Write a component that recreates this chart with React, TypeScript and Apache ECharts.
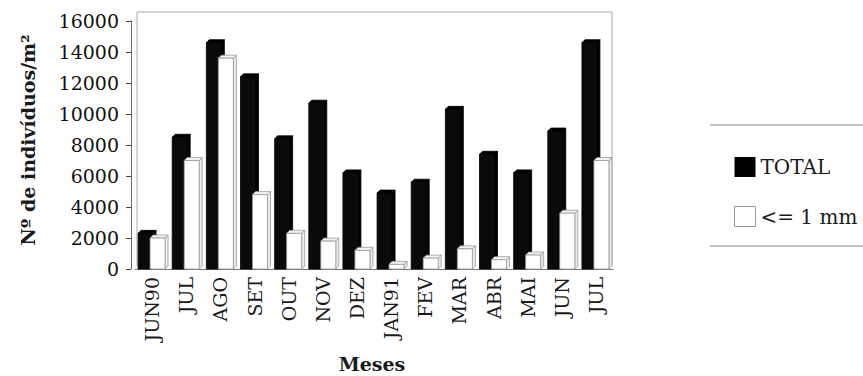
import React, { useEffect, useRef } from "react";
import * as echarts from "echarts";

const months = ["JUN90", "JUL", "AGO", "SET", "OUT", "NOV", "DEZ", "JAN91", "FEV", "MAR", "ABR", "MAI", "JUN", "JUL"];
const total = [2300, 8500, 14600, 12400, 8400, 10700, 6200, 4900, 5600, 10300, 7400, 6200, 8900, 14600];
const upTo1mm = [2000, 7000, 13600, 4800, 2300, 1800, 1200, 300, 700, 1300, 600, 900, 3600, 7000];
const yTicks = [0, 2000, 4000, 6000, 8000, 10000, 12000, 14000, 16000];

const BW = 15;
const DX = 3;
const DY = 3;

function makeRender(offset: number, front: string, side: string, top: string, stroke: string) {
  return (_params: any, api: any) => {
    const i = api.value(0);
    const v = api.value(1);
    const p0 = api.coord([i, 0]);
    const p1 = api.coord([i, v]);
    const x0 = p0[0] + offset;
    const x1 = x0 + BW;
    const yb = p0[1];
    const yt = p1[1];
    return {
      type: "group",
      children: [
        {
          type: "polygon",
          shape: { points: [[x1, yb], [x1 + DX, yb - DY], [x1 + DX, yt - DY], [x1, yt]] },
          style: { fill: side, stroke, lineWidth: 0.8 },
        },
        {
          type: "polygon",
          shape: { points: [[x0, yt], [x0 + DX, yt - DY], [x1 + DX, yt - DY], [x1, yt]] },
          style: { fill: top, stroke, lineWidth: 0.8 },
        },
        {
          type: "rect",
          shape: { x: x0, y: yt, width: BW, height: yb - yt },
          style: { fill: front, stroke, lineWidth: 0.8 },
        },
      ],
    };
  };
}

export default function App() {
  const ref = useRef<HTMLDivElement>(null);
  useEffect(() => {
    if (!ref.current) return;
    const chart = echarts.init(ref.current, undefined, { renderer: "svg" });
    const serif = "DejaVu Serif";
    chart.setOption({
      animation: false,
      backgroundColor: "#ffffff",
      grid: { left: 135, right: 250, top: 21, bottom: 107 },
      legend: {
        orient: "vertical",
        left: 729,
        top: 152,
        itemWidth: 21,
        itemHeight: 20,
        itemGap: 29,
        textStyle: { fontFamily: serif, fontSize: 20, color: "#1a1a1a" },
        data: [
          { name: "TOTAL", icon: "rect", itemStyle: { color: "#000", borderWidth: 0 } },
          { name: "<= 1 mm", icon: "rect", itemStyle: { color: "#fff", borderColor: "#999", borderWidth: 1 } },
        ],
      },
      xAxis: {
        type: "category",
        data: months,
        axisLine: { show: true, lineStyle: { color: "#777", width: 1 } },
        axisTick: { show: false },
        axisLabel: {
          rotate: 90,
          interval: 0,
          margin: 8,
          fontFamily: serif,
          fontSize: 19,
          color: "#1a1a1a",
        },
      },
      yAxis: {
        type: "value",
        min: 0,
        max: 16000,
        interval: 2000,
        offset: 4,
        axisLine: { show: true, lineStyle: { color: "#666", width: 1 } },
        axisTick: { show: true, length: 5, lineStyle: { color: "#444" } },
        splitLine: { show: false },
        axisLabel: {
          margin: 12,
          fontFamily: serif,
          fontSize: 19,
          color: "#111",
          formatter: (v: number) => (yTicks.includes(v) ? String(v) : ""),
        },
      },
      graphic: [
        {
          type: "polyline",
          shape: { points: [[137, 266], [137, 12], [612, 12], [612, 265]] },
          style: { stroke: "#aaa", lineWidth: 1, fill: "none" },
          silent: true,
          z: -1,
        },
        {
          type: "line",
          shape: { x1: 710, y1: 125, x2: 863, y2: 125 },
          style: { stroke: "#888", lineWidth: 1 },
        },
        {
          type: "line",
          shape: { x1: 710, y1: 246, x2: 863, y2: 246 },
          style: { stroke: "#888", lineWidth: 1 },
        },
        {
          type: "text",
          x: 28,
          y: 140,
          rotation: Math.PI / 2,
          style: {
            text: "Nº de indivíduos/m²",
            fontFamily: serif,
            fontWeight: "bold",
            fontSize: 19,
            fill: "#1a1a1a",
            align: "center",
            verticalAlign: "middle",
          },
        },
        {
          type: "text",
          x: 372,
          y: 364,
          style: {
            text: "Meses",
            fontFamily: serif,
            fontWeight: "bold",
            fontSize: 19,
            fill: "#1a1a1a",
            align: "center",
            verticalAlign: "middle",
          },
        },
      ],
      series: [
        {
          name: "TOTAL",
          type: "custom",
          encode: { x: 0, y: 1 },
          data: total.map((v, i) => [i, v]),
          itemStyle: { color: "#000" },
          renderItem: makeRender(-14, "#0a0a0a", "#000", "#000", "#000"),
        },
        {
          name: "<= 1 mm",
          type: "custom",
          encode: { x: 0, y: 1 },
          data: upTo1mm.map((v, i) => [i, v]),
          itemStyle: { color: "#fff", borderColor: "#999" },
          renderItem: makeRender(-2, "#ffffff", "#ececec", "#f4f4f4", "#999"),
        },
      ],
    });
    return () => chart.dispose();
  }, []);
  return <div ref={ref} style={{ position: "absolute", left: 0, top: 0, width: 863, height: 376 }} />;
}
